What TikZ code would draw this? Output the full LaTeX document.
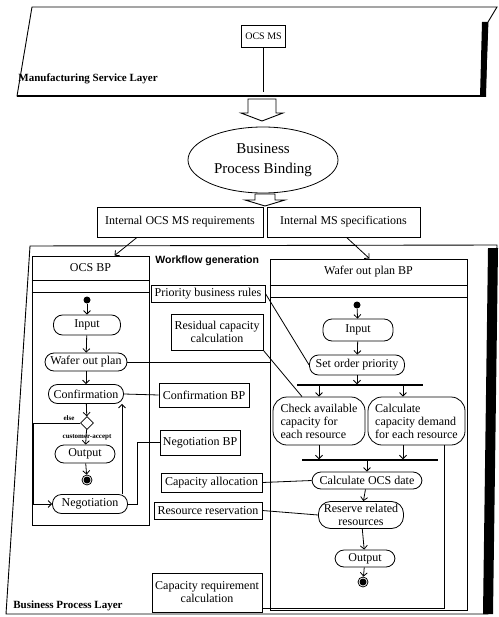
\documentclass[tikz,border=0pt]{standalone}
\usepackage{fontspec}
\setmainfont{Liberation Serif}
\setsansfont{Liberation Sans}
\usetikzlibrary{arrows.meta,shapes.geometric,calc}
\newcommand{\dgmfont}{\fontsize{12}{13}\selectfont}
\newcommand{\msfnt}{\fontsize{10}{11}\selectfont}
\newcommand{\bigfnt}{\fontsize{15}{20}\selectfont}
\newcommand{\layerfnt}{\fontsize{11}{12}\selectfont\bfseries}
\newcommand{\wffnt}{\fontsize{10.5}{12}\selectfont\sffamily\bfseries}
\newcommand{\tinyfnt}{\fontsize{7}{8}\selectfont\bfseries}
\begin{document}
\begin{tikzpicture}[x=1pt,y=-1pt, line width=0.8pt,
  >={Straight Barb[length=3.5pt,width=7pt]},
  box/.style={draw, fill=white, inner sep=1pt, align=center, font=\dgmfont},
  act/.style={draw, fill=white, rounded corners=9pt, inner sep=1pt, align=center, font=\dgmfont},
  bigact/.style={draw, fill=white, rounded corners=14pt, inner sep=2pt, align=left, font=\dgmfont},
  sz/.style 2 args={minimum width=#1, minimum height=#2},
  bar/.style={inner sep=0, outer sep=0.7pt, text height=0pt, text depth=0pt, minimum height=0, minimum width=#1},
  barline/.style={line width=1.4pt},
  startdot/.style={circle, fill, minimum size=7, inner sep=0},
  enddot/.style={circle, draw, minimum size=10, inner sep=0},
  frame/.style={line width=0.9pt},
  tinylbl/.style={font=\tinyfnt, inner sep=0}]
\useasboundingbox (0,0) rectangle (498,617);

% ---------- Manufacturing Service Layer ----------
\draw[frame] (32,7) -- (497,7) -- (488,22) -- (485,96) -- (17,96) -- cycle;
\fill (482,22) -- (488,22) -- (486,97) -- (480,97) -- cycle;
\draw[line width=1.6pt] (17,96) -- (485,96);
\node[font=\layerfnt, anchor=west, inner sep=0] (msl) at (18,79) {Manufacturing Service Layer};
\node[box, font=\msfnt, sz={44}{22}] (ocsms) at (263.5,36) {OCS MS};
\coordinate (msbot) at (263.5,92);
\draw (ocsms) -- (msbot);

% block arrow 1
\draw[frame, fill=white] (248,99) -- (276,99) -- (276,113) -- (283,113) -- (262,121) -- (241,113) -- (248,113) -- cycle;

\node[draw, ellipse, sz={150}{66}, align=center, font=\bigfnt, inner sep=0] (bpb) at (263,160) {Business\\Process Binding};

% block arrow 2
\draw[frame, fill=white] (255,194) -- (275,194) -- (275,200) -- (285,200) -- (265,206) -- (245,200) -- (255,200) -- cycle;

\node[box, sz={166}{30}] (ireq) at (180,222) {Internal OCS MS requirements};
\node[box, sz={153}{30}] (ispec) at (343.5,222) {Internal MS specifications};

% ---------- Business Process Layer ----------
\draw[frame] (30,246) -- (497,245) -- (488,614) -- (6,614) -- cycle;
\fill (488,248) -- (498,248) -- (493,614) -- (483,614) -- cycle;
\node[font=\layerfnt, anchor=west, inner sep=0] (bpl) at (13,606) {Business Process Layer};
\node[font=\wffnt, anchor=west, inner sep=0] (wfg) at (155,261) {Workflow generation};

% OCS BP container
\node[draw, sz={117}{269}, inner sep=0] (ocsbp) at (90.5,390.5) {};
\node[font=\dgmfont] (ocsbpt) at (90.5,268) {OCS BP};
\draw (ocsbp.west |- 0,280) -- (ocsbp.east |- 0,280);
\draw (ocsbp.west |- 0,292) -- (ocsbp.east |- 0,292);

% Wafer out plan BP container
\node[draw, sz={197}{351}, inner sep=0] (wbp) at (368.5,434.5) {};
\node[font=\dgmfont] (wbpt) at (368.5,272) {Wafer out plan BP};
\draw (wbp.west |- 0,285) -- (wbp.east |- 0,285);
\draw (wbp.west |- 0,297) -- (wbp.east |- 0,297);

\draw[->] ([xshift=-43pt]ireq.south) -- ([xshift=24pt]ocsbp.north);
\draw[->] ([xshift=3pt]ispec.south) -- ([xshift=1pt]wbp.north);

% ---------- OCS BP activities ----------
\node[startdot] (s1) at (87,300) {};
\node[act, sz={67}{20}] (in1) at (87,325) {Input};
\node[act, sz={82}{18}] (wop) at (86,362) {Wafer out plan};
\node[act, sz={75}{19}] (conf) at (86,394) {Confirmation};
\node[draw, fill=white, diamond, minimum size=13, inner sep=0] (dia) at (87,423) {};
\node[act, sz={60}{18}] (out1) at (85,454) {Output};
\node[enddot] (end1) at (87,480) {};
\fill (end1.center) circle (3.5);
\node[act, sz={75}{19}] (neg) at (90,504) {Negotiation};

\draw[->] (s1) -- (in1);
\draw[->] (in1) -- (wop);
\draw[->] (wop) -- (conf);
\draw[->] (conf) -- (dia);
\draw[->] (dia) -- (out1);
\draw[->] (out1) -- (end1);
\draw[->] (dia.west) -- ++(-47,0) |- (neg.west);
\draw[->] ([xshift=32pt]neg.north) -- ([xshift=36pt]conf.south);
\node[tinylbl] (elselbl) at (69,418) {else};
\node[tinylbl] (calbl) at (87,437) {customer-accept};

% ---------- middle boxes ----------
\node[box, sz={114}{17}] (pbr) at (208,293.5) {Priority business rules};
\node[box, sz={92}{36}] (rcc) at (217,332) {Residual capacity\\calculation};
\node[box, sz={90}{24}] (cbp) at (204,395) {Confirmation BP};
\node[box, sz={80}{25}] (nbp) at (200,442.5) {Negotiation BP};
\node[box, sz={101}{19}] (cal) at (211.5,482.5) {Capacity allocation};
\node[box, sz={108}{17}] (rr) at (208,510.5) {Resource reservation};
\node[box, sz={110}{39}] (crc) at (207,592.5) {Capacity requirement\\calculation};

% ---------- Wafer out plan BP activities ----------
\node[startdot] (s2) at (357,305) {};
\node[act, sz={70}{22}] (in2) at (358,330) {Input};
\node[act, sz={95}{20}] (sop) at (357,365) {Set order priority};
\node[bar=124] (bar1) at (360,385) {};
\draw[barline] (bar1.west) -- (bar1.east);
\node[bigact, sz={92}{48}] (cac) at (319,421) {Check available\\capacity for\\each resource};
\node[bigact, sz={97}{48}] (ccd) at (416.5,421) {Calculate\\capacity demand\\for each resource};
\node[bar=134] (bar2) at (370,460) {};
\draw[barline] (bar2.west) -- (bar2.east);
\node[act, sz={110}{17}] (ocd) at (367,480.5) {Calculate OCS date};
\node[act, rounded corners=12pt, sz={85}{27}] (rrr) at (361,515) {Reserve related\\resources};
\node[act, sz={60}{17}] (out2) at (365,558.5) {Output};
\node[enddot] (end2) at (363,582) {};
\fill (end2.center) circle (3.5);

\coordinate (ccdin) at ([xshift=-13.5pt]ccd.north);
\coordinate (ccdout) at ([xshift=-13.5pt]ccd.south);
\coordinate (ccdreq) at ([xshift=27.5pt]ccd.south);
\coordinate (cacin) at ([xshift=-17pt]cac.north);

\draw[->] (s2) -- (in2);
\draw[->] (in2) -- (sop);
\draw[->] (sop.south) -- (sop.south |- bar1.north);
\draw[->] (cac.north |- bar1.south) -- (cac.north);
\draw[->] (ccdin |- bar1.south) -- (ccdin);
\draw[->] (cac.south) -- (cac.south |- bar2.north);
\draw[->] (ccdout) -- (ccdout |- bar2.north);
\draw[->] (ocd.north |- bar2.south) -- (ocd.north);
\draw[->] (ocd) -- (rrr);
\draw[->] (rrr) -- (out2);
\draw[->] (out2) -- (end2);

% ---------- cross connections ----------
\draw (wop.east) -- (wop.east -| wbp.west);
\draw (conf.east) -- (cbp.west);
\draw (neg.east) -- ++(9,0) |- (nbp.west);
\draw (pbr.east) -- (sop.west);
\draw (rcc.south east) -- (cacin);
\draw (cal.east) -- (ocd.west);
\draw (rr.east) -- (rrr.west);
\draw ([yshift=-15.5pt]crc.east) -| (ccdreq);
\end{tikzpicture}
\end{document}
